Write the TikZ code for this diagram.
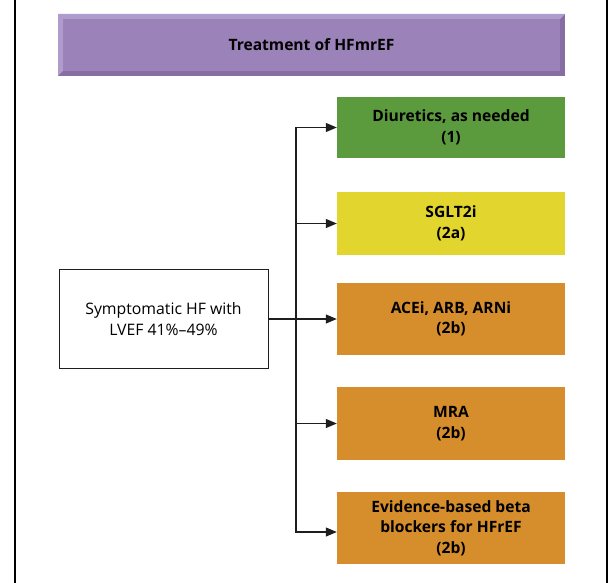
\documentclass[tikz,border=0pt]{standalone}
\usepackage{fontspec}
\setmainfont{Open Sans}
\usepackage{tikz}
\usetikzlibrary{arrows.meta}
\usetikzlibrary{calc}

\definecolor{hfpurple}{RGB}{155,130,185}
\definecolor{hfpurpledark}{RGB}{134,110,164}
\definecolor{hfpurplelight}{RGB}{176,156,204}
\definecolor{hfgreen}{RGB}{92,154,62}
\definecolor{hfyellow}{RGB}{226,213,46}
\definecolor{hforange}{RGB}{214,141,43}
\definecolor{hfline}{RGB}{30,30,30}

\begin{document}
\begin{tikzpicture}[x=1pt, y=-1pt,
    every node/.style={font=\fontsize{15.8}{20.5}\selectfont, align=center, inner sep=0},
    recbox/.style={minimum width=228pt, font=\fontsize{15.6}{20.5}\selectfont\bfseries},
    arr/.style={draw=hfline, line width=1.1pt, -{Triangle[length=11pt,width=9pt]}}]
            \useasboundingbox (0,0) rectangle (610,583);
            % frame
            \draw[line width=2pt] (14.5,0) -- (14.5,583);
            \draw[line width=2pt] (607,0) -- (607,583);
            % title bar with bevel
            \fill[hfpurpledark] (58,14) rectangle (565,76);
            \fill[hfpurplelight] (58,14) -- (565,14) -- (560,19) -- (63,19) -- (63,71) -- (58,76) -- cycle;
            \fill[hfpurple] (63,19) rectangle (560,71);
            \node[font=\fontsize{15.6}{20}\selectfont\bfseries] (title) at (311.5,45) {Treatment of HFmrEF};
            % source
            \node[draw=hfline, line width=1pt, minimum width=209pt, minimum height=99pt] (src) at (163.5,319) {Symptomatic HF with\\LVEF 41\%--49\%};
            % recommendations
            \node[recbox, fill=hfgreen, minimum height=61pt] (diur) at (451,127.5) {Diuretics, as needed\\(1)};
            \node[recbox, fill=hfyellow, minimum height=63pt] (sglt) at (451,223.5) {SGLT2i\\(2a)};
            \node[recbox, fill=hforange, minimum height=72pt] (acei) at (451,319) {ACEi, ARB, ARNi\\(2b)};
            \node[recbox, fill=hforange, minimum height=73pt] (mra) at (451,423.5) {MRA\\(2b)};
            \node[recbox, fill=hforange, minimum height=72pt] (ebb) at (451,528) {Evidence-based beta\\blockers for HFrEF\\(2b)};
            \coordinate (jn) at (296,319);
            \draw[arr] (src) -- (acei);
            \draw[arr] (jn) |- (diur.west);
            \draw[arr] (jn) |- (sglt.west);
            \draw[arr] (jn) |- (mra.west);
            \draw[arr] (jn) |- ([yshift=-4pt]ebb.west);
        \end{tikzpicture}
\end{document}
